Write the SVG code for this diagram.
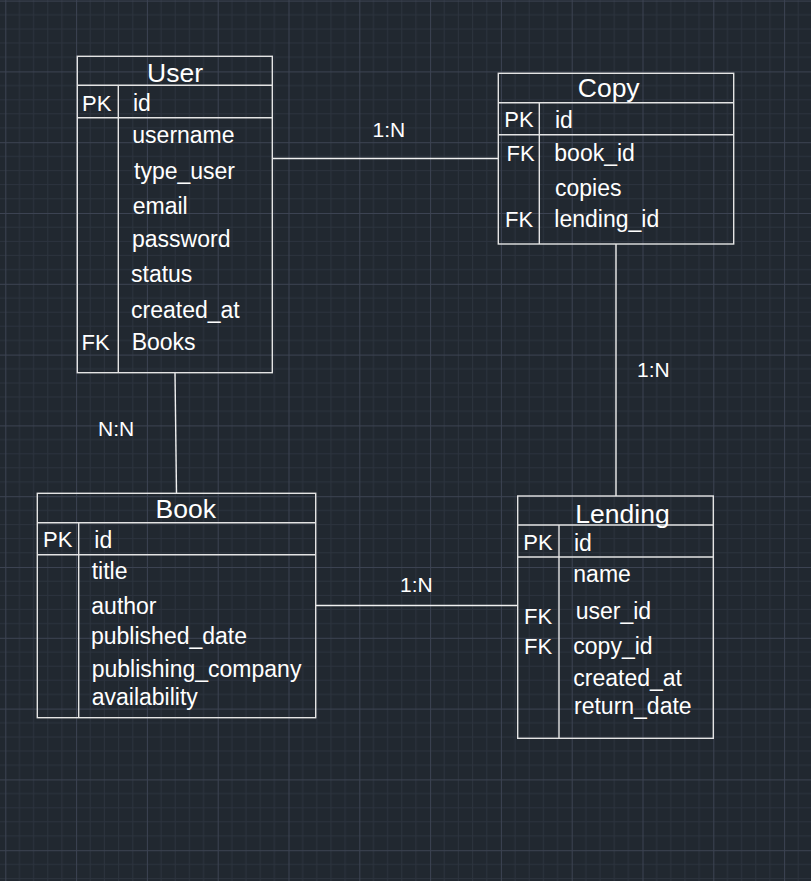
<svg xmlns="http://www.w3.org/2000/svg" width="811" height="881" viewBox="0 0 811 881">
<defs>
<pattern id="grid" x="5.3" y="0.6" width="70.8" height="70.8" patternUnits="userSpaceOnUse">
<path d="M14.16 0V70.8M28.32 0V70.8M42.48 0V70.8M56.64 0V70.8M0 14.16H70.8M0 28.32H70.8M0 42.48H70.8M0 56.64H70.8" stroke="#2c333e" stroke-width="1" fill="none"/>
<path d="M0.5 0V70.8M0 0.5H70.8" stroke="#3c4352" stroke-width="1" fill="none"/>
</pattern>
<style>
.box{fill:none;stroke:#e4e4e4;stroke-width:1.4}
.ln{stroke:#e4e4e4;stroke-width:1.4;fill:none}
.conn{stroke:#f0f0f0;stroke-width:1.4;fill:none}
text{font-family:"Liberation Sans",Arial,sans-serif;fill:#ffffff}
.t{font-size:26.5px}
.f{font-size:23px}
.k{font-size:22px}
.lbl{font-size:21px}
</style>
</defs>
<rect width="811" height="881" fill="#212830"/>
<rect width="811" height="881" fill="url(#grid)"/>

<g id="connectors">
<line class="conn" x1="272.3" y1="158.5" x2="498.3" y2="158.5"/>
<text class="lbl" x="372.5" y="136.5">1:N</text>
<line class="conn" x1="616" y1="244" x2="616" y2="496"/>
<text class="lbl" x="637" y="377">1:N</text>
<line class="conn" x1="175" y1="372.7" x2="176.5" y2="493.3"/>
<text class="lbl" x="98" y="436">N:N</text>
<line class="conn" x1="315.7" y1="605.5" x2="517.7" y2="605.5"/>
<text class="lbl" x="400" y="592">1:N</text>
</g>

<g id="user">
<rect class="box" x="77.3" y="56.3" width="195" height="316.4"/>
<line class="ln" x1="77.3" y1="85.3" x2="272.3" y2="85.3"/>
<line class="ln" x1="77.3" y1="117.7" x2="272.3" y2="117.7"/>
<line class="ln" x1="118.3" y1="85.3" x2="118.3" y2="372.7"/>
<text class="t" x="175" y="82.3" text-anchor="middle">User</text>
<text class="k" x="82" y="110.5">PK</text>
<text class="f" x="133" y="111">id</text>
<text class="f" x="132.3" y="143.3">username</text>
<text class="f" x="134" y="179.3">type_user</text>
<text class="f" x="132.7" y="214">email</text>
<text class="f" x="132" y="246.7">password</text>
<text class="f" x="131" y="282.3">status</text>
<text class="f" x="131" y="317.7">created_at</text>
<text class="k" x="81.5" y="350">FK</text>
<text class="f" x="131.7" y="350">Books</text>
</g>

<g id="copy">
<rect class="box" x="498.3" y="73.3" width="235.4" height="170.7"/>
<line class="ln" x1="498.3" y1="102.7" x2="733.7" y2="102.7"/>
<line class="ln" x1="498.3" y1="134.7" x2="733.7" y2="134.7"/>
<line class="ln" x1="539.3" y1="102.7" x2="539.3" y2="244"/>
<text class="t" x="608.7" y="96.7" text-anchor="middle">Copy</text>
<text class="k" x="504.3" y="127">PK</text>
<text class="f" x="555" y="127.5">id</text>
<text class="k" x="506.5" y="161">FK</text>
<text class="f" x="554.3" y="161">book_id</text>
<text class="f" x="555" y="195.5">copies</text>
<text class="k" x="505" y="227">FK</text>
<text class="f" x="554.3" y="227">lending_id</text>
</g>

<g id="book">
<rect class="box" x="37.3" y="493.3" width="278.4" height="224.4"/>
<line class="ln" x1="37.3" y1="522.7" x2="315.7" y2="522.7"/>
<line class="ln" x1="37.3" y1="554.7" x2="315.7" y2="554.7"/>
<line class="ln" x1="78.7" y1="522.7" x2="78.7" y2="717.7"/>
<text class="t" x="185.8" y="518.3" text-anchor="middle">Book</text>
<text class="k" x="43" y="547">PK</text>
<text class="f" x="94.3" y="548">id</text>
<text class="f" x="91.7" y="578.5">title</text>
<text class="f" x="91.3" y="614.3">author</text>
<text class="f" x="91" y="644">published_date</text>
<text class="f" x="91.7" y="676.7">publishing_company</text>
<text class="f" x="91.7" y="705">availability</text>
</g>

<g id="lending">
<rect class="box" x="517.7" y="496" width="195.6" height="242.3"/>
<line class="ln" x1="517.7" y1="525" x2="713.3" y2="525"/>
<line class="ln" x1="517.7" y1="557" x2="713.3" y2="557"/>
<line class="ln" x1="559" y1="525" x2="559" y2="738.3"/>
<text class="t" x="622.5" y="522.7" text-anchor="middle">Lending</text>
<text class="k" x="523.3" y="550">PK</text>
<text class="f" x="574" y="550.5">id</text>
<text class="f" x="573.3" y="582">name</text>
<text class="k" x="524" y="623.5">FK</text>
<text class="f" x="575.7" y="618.5">user_id</text>
<text class="k" x="524" y="654">FK</text>
<text class="f" x="573.3" y="653.5">copy_id</text>
<text class="f" x="573.3" y="686">created_at</text>
<text class="f" x="574" y="713.5">return_date</text>
</g>
</svg>
